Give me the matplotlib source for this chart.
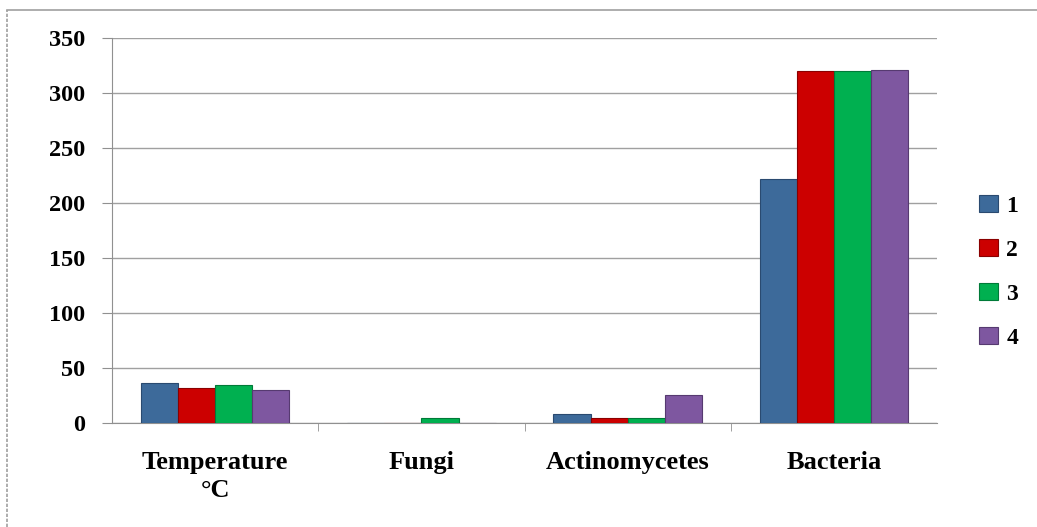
import numpy as np
import matplotlib.pyplot as plt
from matplotlib.lines import Line2D

categories = ["Temperature\n°C", "Fungi", "Actinomycetes", "Bacteria"]
series_names = ["1", "2", "3", "4"]
s1 = [36.6, 0, 8, 222]
s2 = [31.8, 0, 5, 320]
s3 = [34.3, 5, 5, 320]
s4 = [30, 0, 25.7, 321]
colors = ["#3d6a9a", "#cc0000", "#00b050", "#7e57a0"]
edges = ["#2a4a70", "#8a0000", "#007a38", "#563a70"]

plt.rcParams['font.family'] = ['Liberation Serif', 'DejaVu Serif']
plt.rcParams['font.weight'] = 'bold'

fig = plt.figure(figsize=(10.37, 5.27), dpi=100)
ax = fig.add_axes([112/1037, (527-423)/527, (937-112)/1037, (423-38)/527])

x = np.arange(len(categories))
w = 0.18
for i, vals in enumerate([s1, s2, s3, s4]):
    ax.bar(x + (i - 1.5) * w, vals, w, color=colors[i], edgecolor=edges[i],
           linewidth=0.8, label=series_names[i], zorder=3)

ax.set_xlim(-0.5, 3.5)
ax.set_ylim(0, 350)
ax.set_yticks(range(0, 351, 50))
ax.yaxis.grid(True, color="#a0a0a0", linewidth=1.0, zorder=0)
ax.set_xticks(x)
ax.set_xticklabels(categories, fontsize=19, fontweight='bold', linespacing=1.3)
ax.set_xticks([0.5, 1.5, 2.5], minor=True)
ax.tick_params(axis='x', which='major', length=0, pad=20)
ax.tick_params(axis='x', which='minor', length=6, color="#909090")
ax.tick_params(axis='y', length=7, color="#909090", labelsize=17.5, pad=12)
for lab in ax.get_yticklabels():
    lab.set_fontweight('bold')
for s in ["top", "right"]:
    ax.spines[s].set_visible(False)
ax.spines["left"].set_color("#909090")
ax.spines["bottom"].set_color("#909090")

leg = fig.legend(loc="center left", bbox_to_anchor=(958/1037, 1 - 272/527), frameon=False,
                 fontsize=17, handlelength=0.8, handleheight=0.7,
                 labelspacing=0.95, handletextpad=0.35)
for t in leg.get_texts():
    t.set_fontweight('bold')

# outer frame (top and left edges only, as in the reference)
fig.add_artist(Line2D([7/1037, 1], [1 - 10/527, 1 - 10/527], transform=fig.transFigure,
                      color="#a0a0a0", linewidth=1.2))
fig.add_artist(Line2D([7/1037, 7/1037], [0, 1 - 10/527], transform=fig.transFigure,
                      color="#a0a0a0", linewidth=1.2, linestyle=(0, (2, 1))))

fig.savefig("out.png", dpi=100)
